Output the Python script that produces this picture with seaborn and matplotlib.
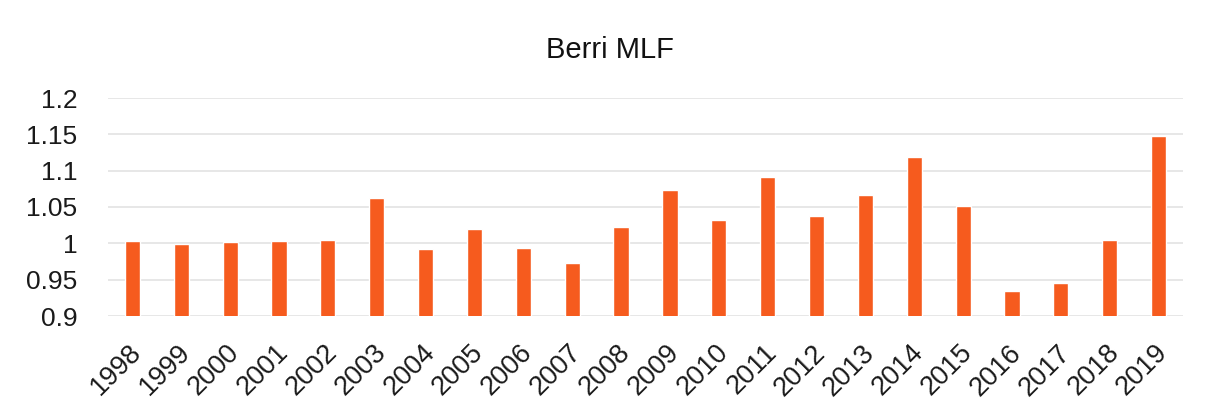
import matplotlib
matplotlib.use("Agg")
import matplotlib.pyplot as plt
import matplotlib.transforms as mtransforms
import seaborn as sns
import pandas as pd

years = ["1998", "1999", "2000", "2001", "2002", "2003", "2004", "2005", "2006", "2007", "2008",
         "2009", "2010", "2011", "2012", "2013", "2014", "2015", "2016", "2017", "2018", "2019"]
mlf = [1.003, 0.999, 1.002, 1.003, 1.005, 1.062, 0.992, 1.020, 0.993, 0.973, 1.023,
       1.073, 1.032, 1.091, 1.037, 1.067, 1.119, 1.051, 0.935, 0.946, 1.005, 1.148]
yticks = [0.9, 0.95, 1.0, 1.05, 1.1, 1.15, 1.2]
ytick_labels = ["0.9", "0.95", "1", "1.05", "1.1", "1.15", "1.2"]
title = "Berri MLF"

sns.set_theme(style="white")
plt.rcParams['font.family'] = ['Liberation Sans', 'DejaVu Sans']

df = pd.DataFrame({"year": years, "mlf": mlf})

fig = plt.figure(figsize=(12.05, 4.16), dpi=100)
ax = fig.add_axes([108 / 1205, 1 - 316 / 416, (1183 - 108) / 1205, (316 - 98) / 416])

ax.set_axisbelow(True)
for y in yticks:
    ax.axhline(y, color="#E3E3E3", linewidth=1.2, zorder=0)

sns.barplot(data=df, x="year", y="mlf", color="#F65B1E", width=0.31,
            saturation=1, ax=ax, zorder=2)

ax.set_ylim(0.9, 1.2)
ax.set_xlim(-0.5, len(years) - 0.5)
ax.set_yticks(yticks)
ax.set_yticklabels(ytick_labels, fontsize=19, color="#1a1a1a")
ax.set_xticks(range(len(years)))
ax.set_xticklabels(years, rotation=45, ha="right", rotation_mode="anchor",
                   fontsize=19.5, color="#1a1a1a")
ax.tick_params(axis="y", length=0, pad=22)
ax.tick_params(axis="x", length=0, pad=17)
offset = mtransforms.ScaledTranslation(-4 / 100, 0, fig.dpi_scale_trans)
for lbl in ax.get_xticklabels():
    lbl.set_transform(lbl.get_transform() + offset)
ax.set_xlabel("")
ax.set_ylabel("")
for s in ax.spines.values():
    s.set_visible(False)
ax.grid(False)

fig.text(610 / 1205, 1 - 50 / 416, title, ha="center", va="center",
         fontsize=21, color="#111111")

fig.savefig("out.png", dpi=100, facecolor="white")
